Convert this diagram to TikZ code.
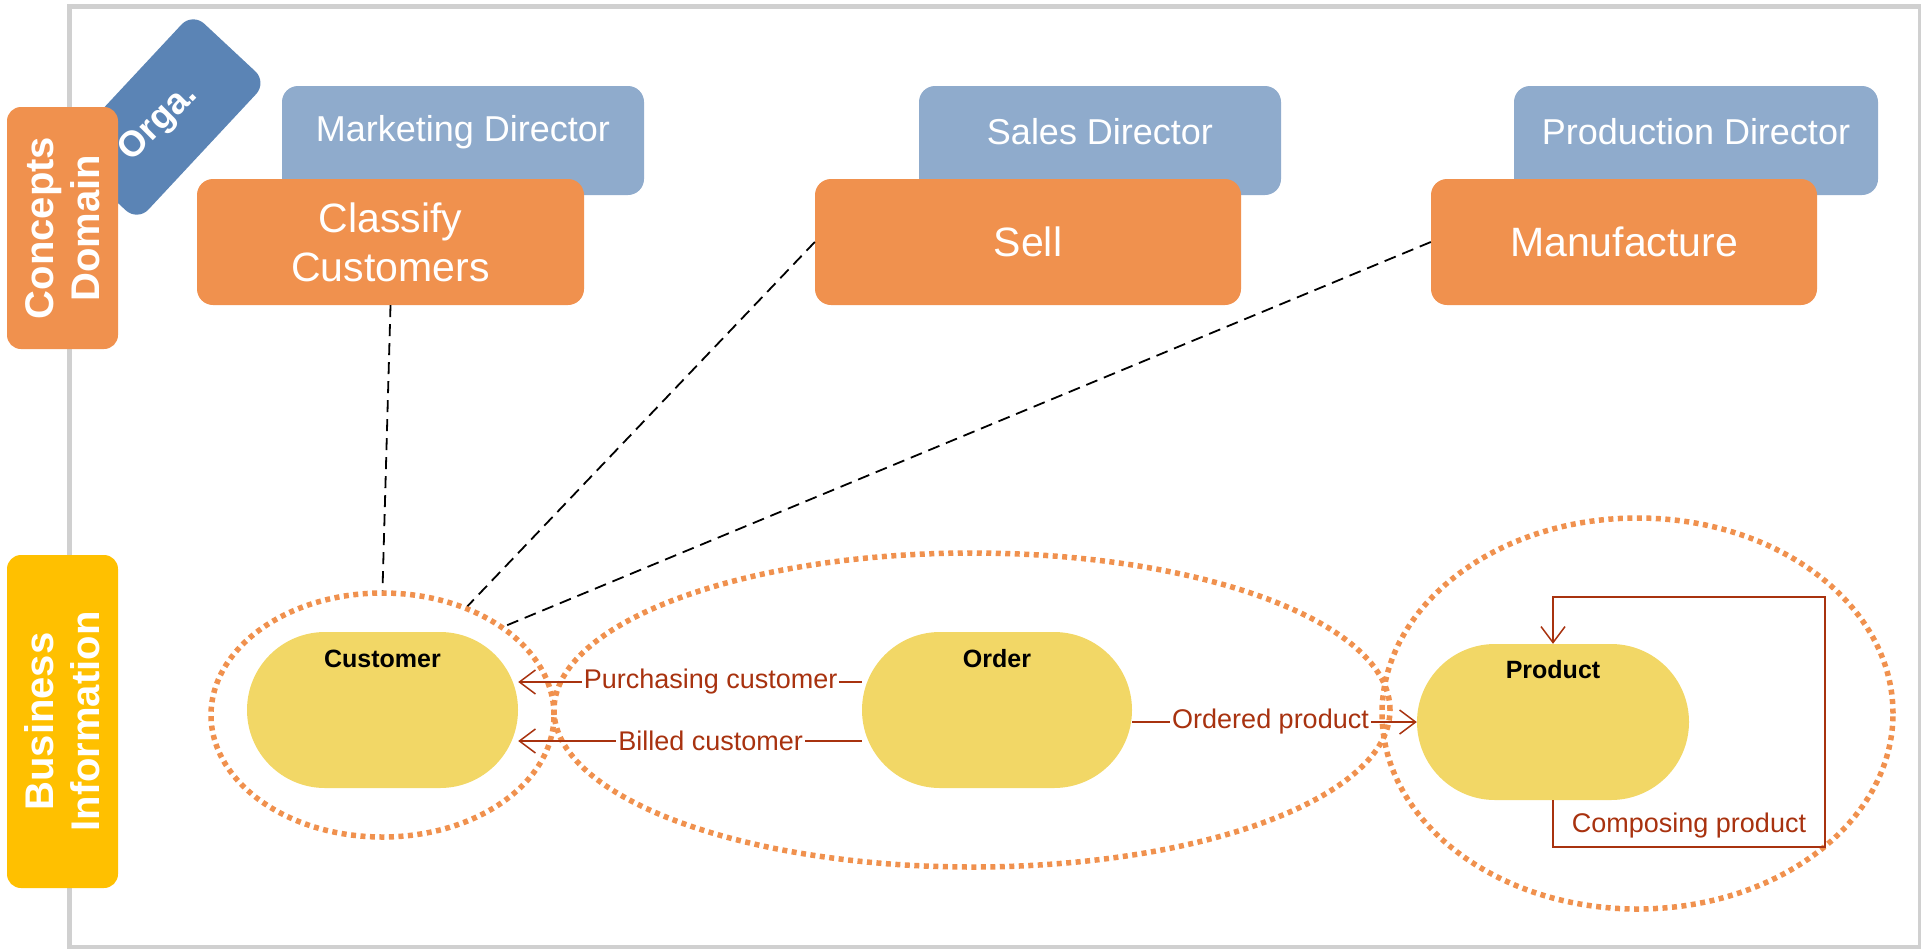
\documentclass[tikz,border=0pt]{standalone}
\usepackage{fontspec}
\setmainfont{Liberation Sans}
\usetikzlibrary{shapes.geometric,shapes.misc,arrows.meta,calc}
\definecolor{cFrame}{HTML}{D0D0D0}
\definecolor{cOrga}{HTML}{5B84B5}
\definecolor{cConcept}{HTML}{F0914E}
\definecolor{cDirector}{HTML}{8FABCC}
\definecolor{cBiz}{HTML}{FFC000}
\definecolor{cEntity}{HTML}{F2D766}
\definecolor{cRel}{HTML}{A8320F}
\tikzset{
  tab/.style={rounded corners=14pt, inner sep=0pt, text=white, align=center, rotate=90,
    font=\bfseries\fontsize{40}{46}\selectfont},
  dirbox/.style={fill=cDirector, rounded corners=16pt, minimum width=362pt, minimum height=109pt, inner sep=0pt},
  dirtext/.style={text=white, font=\fontsize{36}{43}\selectfont},
  actbox/.style={fill=cConcept, rounded corners=16pt, minimum height=126pt, inner sep=0pt, text=white,
    font=\fontsize{41}{49}\selectfont, align=center},
  entitybox/.style={rounded rectangle, fill=cEntity, minimum width=271pt, minimum height=156pt, inner sep=0pt},
  enttext/.style={font=\bfseries\fontsize{25}{30}\selectfont},
  groupring/.style={ellipse, draw=cConcept, line width=5.5pt, dash pattern=on 5pt off 4.5pt, inner sep=0pt},
  depend/.style={draw=black, dash pattern=on 12pt off 7pt, line width=1.8pt},
  relarrow/.style={draw=cRel, line width=1.5pt, -{Straight Barb[length=16pt,width=24pt]}},
  rellabel/.style={text=cRel, fill=white, inner sep=2pt, font=\fontsize{27}{32}\selectfont}
}
\begin{document}
\begin{tikzpicture}[x=1pt,y=-1pt]
\useasboundingbox (0,0) rectangle (1921,948);
% frame
\node[draw=cFrame, line width=4.5pt, minimum width=1851pt, minimum height=941pt, inner sep=0pt, anchor=north west] (frame) at (67,4) {};

% Orga tab
\node[fill=cOrga, rounded corners=16pt, rotate=47, minimum width=190pt, minimum height=102pt, inner sep=0pt] (orga) at (165,117) {};
\node[rotate=45, text=white, font=\bfseries\fontsize{36}{42}\selectfont] (orgatext) at (159,123) {Orga.};

% side tabs
\node[tab, fill=cConcept, minimum width=242pt, minimum height=111pt] (concepts) at (62.5,228) {Concepts\\Domain};
\node[tab, fill=cBiz, minimum width=333pt, minimum height=111pt] (biz) at (62.5,721.5) {Business\\Information};

% directors
\node[dirbox] (mkt) at (463,140.5) {};
\node[dirtext] (mkttext) at ($(mkt.north)+(0,46)$) {Marketing Director};
\node[dirbox] (sales) at (1100,140.5) {};
\node[dirtext] (salestext) at ($(sales.north)+(0,46)$) {Sales Director};
\node[dirbox, minimum width=364pt] (prodir) at (1696,140.5) {};
\node[dirtext] (prodirtext) at ($(prodir.north)+(0,46)$) {Production Director};

% activities
\node[actbox, minimum width=387pt] (classify) at (390.5,242) {Classify\\Customers};
\node[actbox, minimum width=426pt] (sell) at (1028,242) {Sell};
\node[actbox, minimum width=386pt] (manuf) at (1624,242) {Manufacture};

% groups
\node[groupring, minimum width=343pt, minimum height=244pt] (custring) at (382.5,715) {};
\node[groupring, minimum width=836pt, minimum height=314pt] (orderring) at (972,710) {};
\node[groupring, minimum width=511pt, minimum height=391pt] (prodring) at (1637.5,713.5) {};

% entities
\node[entitybox] (cust) at (382.5,710) {};
\node[enttext] (custtext) at ($(cust.center)+(0,-51)$) {Customer};
\node[entitybox, minimum width=270pt] (order) at (997,710) {};
\node[enttext] (ordertext) at ($(order.center)+(0,-51)$) {Order};
\node[entitybox, minimum width=272pt] (prod) at (1553,722) {};
\node[enttext] (prodtext) at ($(prod.center)+(0,-52)$) {Product};

% dependencies
\draw[depend] (classify.south) -- (custring.north);
\draw[depend] (sell.west) -- (custring.52);
\draw[depend] (manuf.west) -- (custring.36);

% relations
\draw[relarrow] ([yshift=28pt]order.west) -- node[pos=0.44, rellabel] {Purchasing customer} ([yshift=28pt]cust.east);
\draw[relarrow] ([yshift=-31pt]order.west) -- node[pos=0.44, rellabel] {Billed customer} ([yshift=-31pt]cust.east);
\draw[relarrow] (order.east |- prod.west) -- node[pos=0.486, rellabel] {Ordered product} (prod.west);
\draw[relarrow] (prod.south) -- ++(0,47) -- ++(272,0) node[midway, above, yshift=6pt, rellabel, fill=none] {Composing product}
  -- ++(0,-250) -- ++(-272,0) -- (prod.north);
\end{tikzpicture}
\end{document}
